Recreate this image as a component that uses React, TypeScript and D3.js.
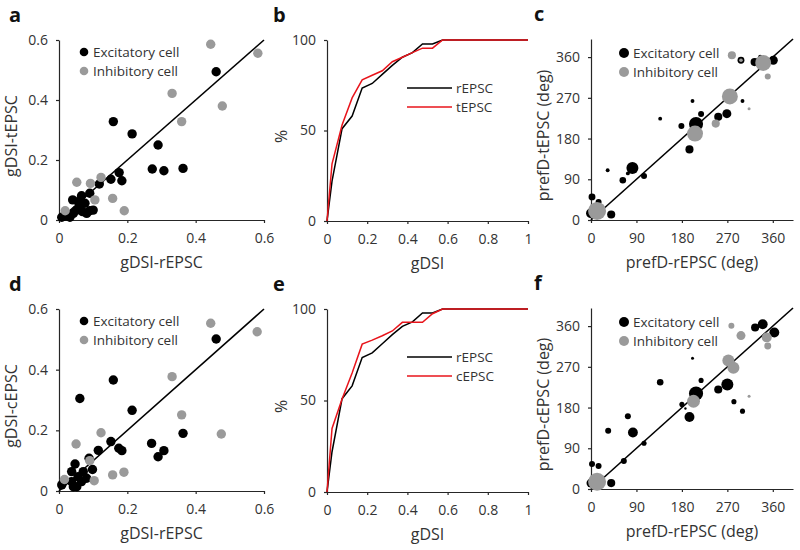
import { useEffect, useRef } from 'react'
import * as d3 from 'd3'

// gDSI scatter: [rEPSC, other]
const aExc = [
  [0.46, 0.494], [0.159, 0.328], [0.214, 0.287], [0.29, 0.25], [0.273, 0.17], [0.307, 0.164],
  [0.363, 0.172], [0.176, 0.158], [0.152, 0.136], [0.184, 0.131], [0.118, 0.12], [0.09, 0.089],
  [0.066, 0.081], [0.04, 0.067], [0.056, 0.061], [0.076, 0.056], [0.061, 0.044], [0.052, 0.033],
  [0.069, 0.028], [0.09, 0.031], [0.1, 0.033], [0.042, 0.022], [0.081, 0.022], [0.018, 0.013],
  [0.032, 0.009], [0.008, 0.009],
]
const aInh = [
  [0.444, 0.586], [0.582, 0.556], [0.331, 0.422], [0.478, 0.38], [0.359, 0.328], [0.052, 0.126],
  [0.092, 0.122], [0.123, 0.142], [0.105, 0.067], [0.157, 0.072], [0.191, 0.031], [0.018, 0.031],
]
const dExc = [
  [0.46, 0.501], [0.159, 0.366], [0.061, 0.305], [0.214, 0.266], [0.363, 0.19], [0.271, 0.157],
  [0.152, 0.163], [0.175, 0.141], [0.184, 0.133], [0.115, 0.134], [0.307, 0.133], [0.29, 0.113],
  [0.088, 0.108], [0.047, 0.089], [0.098, 0.071], [0.037, 0.064], [0.071, 0.064], [0.056, 0.047],
  [0.081, 0.042], [0.066, 0.031], [0.037, 0.031], [0.042, 0.014], [0.008, 0.02], [0.052, 0.014],
]
const dInh = [
  [0.444, 0.553], [0.58, 0.525], [0.331, 0.377], [0.359, 0.251], [0.475, 0.188], [0.123, 0.192],
  [0.05, 0.155], [0.09, 0.1], [0.157, 0.053], [0.19, 0.062], [0.103, 0.034], [0.016, 0.038],
]

// cumulative distributions of gDSI (%)
const cdfX = [0, 0.025, 0.075, 0.125, 0.175, 0.225, 0.275, 0.325, 0.375, 0.425, 0.475, 0.525, 0.575, 1]
const rEPSC = [0, 22, 51, 58, 73.5, 76, 81, 86, 90.5, 93, 97.8, 97.8, 100, 100]
const tEPSC = [0, 31.6, 53, 68, 78, 80.5, 83, 88, 90.5, 93, 95.5, 95.5, 100, 100]
const cEPSC = [0, 34.7, 50.8, 65, 80.8, 83, 85.4, 88, 92.7, 92.7, 92.7, 97.4, 100, 100]

// preferred direction: [rEPSC deg, other deg, gDSI (marker size)]
const cExc = [
  [0, 15, 0.33], [2, 51, 0.23], [15, 40, 0.2], [40, 12, 0.27], [33, 110, 0.13], [63, 88, 0.22],
  [82, 115, 0.4], [73, 103, 0.13], [105, 97, 0.2], [137, 224, 0.13], [179, 208, 0.2], [195, 156, 0.27],
  [201, 263, 0.13], [208, 212, 0.47], [218, 234, 0.2], [252, 228, 0.27], [269, 235, 0.3], [300, 263, 0.13],
  [297, 353, 0.23], [324, 349, 0.27], [335, 361, 0.13], [361, 353, 0.3],
]
const cInh = [
  [12, 20, 0.6], [206, 191, 0.53], [275, 273, 0.53], [279, 364, 0.27], [297, 353, 0.12],
  [247, 213, 0.27], [313, 246, 0.1], [350, 317, 0.2], [341, 347, 0.53],
]
const fExc = [
  [0, 13, 0.3], [2, 55, 0.2], [15, 51, 0.2], [40, 13, 0.27], [34, 129, 0.2], [65, 62, 0.2],
  [73, 161, 0.2], [83, 125, 0.33], [105, 101, 0.17], [137, 236, 0.22], [180, 187, 0.17], [187, 178, 0.08],
  [195, 159, 0.33], [201, 289, 0.1], [208, 211, 0.47], [218, 240, 0.17], [252, 220, 0.27], [270, 231, 0.4],
  [283, 193, 0.17], [300, 172, 0.17], [325, 357, 0.27], [340, 364, 0.33], [363, 346, 0.33],
]
const fInh = [
  [12, 16, 0.6], [203, 194, 0.43], [272, 284, 0.4], [282, 268, 0.4], [278, 361, 0.2],
  [297, 339, 0.3], [313, 205, 0.1], [348, 335, 0.33], [350, 316, 0.23],
]

const gdsiTicks = [0, 0.2, 0.4, 0.6]
const cdfXTicks = [0, 0.2, 0.4, 0.6, 0.8, 1]
const cdfYTicks = [0, 50, 100]
const degTicks = [0, 90, 180, 270, 360]

const FONT = "'Open Sans', 'Liberation Sans', sans-serif"
const AXIS = '#262626'
const TEXT = '#333'
const GRAY = '#9a9a9a'

type Sel = d3.Selection<SVGGElement, unknown, null, undefined>

function axes(g: Sel, x: d3.ScaleLinear<number, number>, y: d3.ScaleLinear<number, number>,
  xt: number[], yt: number[], xLabel: string, yLabel: string, yLabelX: number) {
  const [x0, x1] = x.range()
  const [y0, y1] = y.range()
  const ax = g.append('g').attr('transform', `translate(0,${y0})`)
    .call(d3.axisBottom(x).tickValues(xt).tickSize(3).tickSizeOuter(0).tickPadding(10).tickFormat(d => String(d)))
  const ay = g.append('g').attr('transform', `translate(${x0},0)`)
    .call(d3.axisLeft(y).tickValues(yt).tickSize(3).tickSizeOuter(0).tickPadding(8).tickFormat(d => String(d)))
  for (const a of [ax, ay]) {
    a.selectAll('path, line').attr('stroke', AXIS).attr('stroke-width', 1.2)
    a.selectAll('text').attr('fill', TEXT).style('font-size', '14px').style('font-family', FONT)
  }
  g.append('text').attr('x', (x0 + x1) / 2).attr('y', y0 + 48).attr('text-anchor', 'middle')
    .attr('fill', TEXT).style('font-size', '16px').style('font-family', FONT).text(xLabel)
  g.append('text').attr('transform', `translate(${yLabelX},${(y0 + y1) / 2 + 6}) rotate(-90)`)
    .attr('text-anchor', 'middle').attr('fill', TEXT).style('font-size', '16px').style('font-family', FONT).text(yLabel)
}

function panelLetter(g: Sel, x: number, y: number, t: string) {
  g.append('text').attr('x', x).attr('y', y).attr('fill', '#111').style('font-size', '20px')
    .style('font-weight', 'bold').style('font-family', FONT).text(t)
}

function scatterLegend(g: Sel, x: number, y: number, r: number) {
  const items = [['Excitatory cell', '#000'], ['Inhibitory cell', GRAY]]
  items.forEach(([label, c], i) => {
    g.append('circle').attr('cx', x).attr('cy', y + i * 19).attr('r', r).attr('fill', c)
    g.append('text').attr('x', x + 9).attr('y', y + i * 19 + 5).attr('fill', TEXT)
      .style('font-size', '13.5px').style('font-family', FONT).text(label)
  })
}

function gdsiPanel(g: Sel, top: number, bottom: number, exc: number[][], inh: number[][], yLabel: string, letter: string) {
  const x = d3.scaleLinear().domain([0, 0.6]).range([59, 264])
  const y = d3.scaleLinear().domain([0, 0.6]).range([bottom, top])
  axes(g, x, y, gdsiTicks, gdsiTicks, 'gDSI-rEPSC', yLabel, 17)
  panelLetter(g, 9, top - 18, letter)
  g.append('line').attr('x1', x(0)).attr('y1', y(0)).attr('x2', x(0.6)).attr('y2', y(0.6))
    .attr('stroke', '#000').attr('stroke-width', 1.6)
  g.selectAll(null).data(exc).join('circle').attr('cx', d => x(d[0])).attr('cy', d => y(d[1]))
    .attr('r', 4.7).attr('fill', '#000')
  g.selectAll(null).data(inh).join('circle').attr('cx', d => x(d[0])).attr('cy', d => y(d[1]))
    .attr('r', 4.7).attr('fill', GRAY)
  scatterLegend(g, 84, top + 12, 4.3)
}

function cdfPanel(g: Sel, top: number, bottom: number, other: number[], otherLabel: string, letter: string) {
  const x = d3.scaleLinear().domain([0, 1]).range([327, 528])
  const y = d3.scaleLinear().domain([0, 100]).range([bottom, top])
  axes(g, x, y, cdfXTicks, cdfYTicks, 'gDSI', '%', 287)
  panelLetter(g, 273, top - 18, letter)
  const line = d3.line<number>().x((_d, i) => x(cdfX[i])).y(d => y(d))
  g.append('path').datum(rEPSC).attr('d', line).attr('fill', 'none').attr('stroke', '#000').attr('stroke-width', 1.5)
  g.append('path').datum(other).attr('d', line).attr('fill', 'none').attr('stroke', '#e8141b').attr('stroke-width', 1.5)
  const items: [string, string][] = [['rEPSC', '#000'], [otherLabel, '#e8141b']]
  items.forEach(([label, c], i) => {
    const ly = top + 48 + i * 19
    g.append('line').attr('x1', 407).attr('x2', 452).attr('y1', ly).attr('y2', ly).attr('stroke', c).attr('stroke-width', 1.5)
    g.append('text').attr('x', 456).attr('y', ly + 5).attr('fill', TEXT)
      .style('font-size', '13.5px').style('font-family', FONT).text(label)
  })
}

function degPanel(g: Sel, top: number, bottom: number, exc: number[][], inh: number[][], yLabel: string, letter: string) {
  const x = d3.scaleLinear().domain([0, 400]).range([591, 793])
  const y = d3.scaleLinear().domain([0, 400]).range([bottom, top])
  const r = d3.scaleLinear().domain([0, 0.6]).range([0, 9])
  axes(g, x, y, degTicks, degTicks, 'prefD-rEPSC (deg)', yLabel, 549)
  panelLetter(g, 534, top - 18, letter)
  g.append('line').attr('x1', x(0)).attr('y1', y(0)).attr('x2', x(400)).attr('y2', y(400))
    .attr('stroke', '#000').attr('stroke-width', 1.6)
  g.selectAll(null).data(exc).join('circle').attr('cx', d => x(d[0])).attr('cy', d => y(d[1]))
    .attr('r', d => r(d[2])).attr('fill', '#000')
  g.selectAll(null).data(inh).join('circle').attr('cx', d => x(d[0])).attr('cy', d => y(d[1]))
    .attr('r', d => r(d[2])).attr('fill', GRAY)
  scatterLegend(g, 624, top + 14, 5)
}

export default function App() {
  const svgRef = useRef<SVGSVGElement>(null)

  useEffect(() => {
    if (!svgRef.current) return
    const svg = d3.select(svgRef.current)
    svg.selectAll('*').remove()
    const g = svg.append('g') as Sel

    gdsiPanel(g, 40, 220, aExc, aInh, 'gDSI-tEPSC', 'a')
    cdfPanel(g, 40, 221, tEPSC, 'tEPSC', 'b')
    degPanel(g, 39, 220, cExc, cInh, 'prefD-tEPSC (deg)', 'c')
    gdsiPanel(g, 309, 491, dExc, dInh, 'gDSI-cEPSC', 'd')
    cdfPanel(g, 309, 492, cEPSC, 'cEPSC', 'e')
    degPanel(g, 308, 489, fExc, fInh, 'prefD-cEPSC (deg)', 'f')
  }, [])

  return (
    <svg ref={svgRef} width={800} height={550}
      style={{ position: 'absolute', left: 0, top: 0, background: '#fff' }} />
  )
}
